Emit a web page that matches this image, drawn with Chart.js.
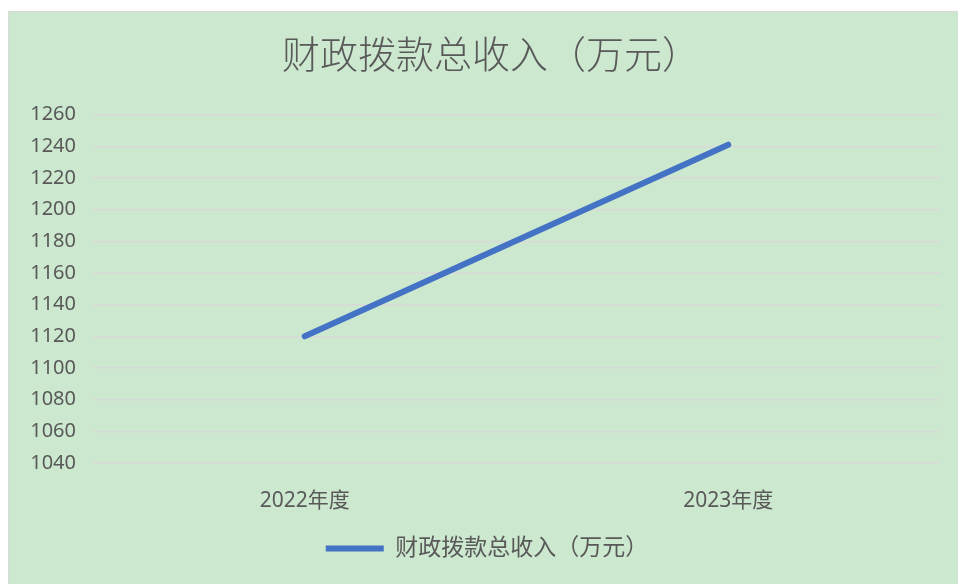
<!DOCTYPE html>
<html>
<head>
<meta charset="utf-8">
<script src="https://cdn.jsdelivr.net/npm/chart.js@4/dist/chart.umd.min.js"></script>
<style>
  html, body { margin: 0; padding: 0; background: #fff; overflow: hidden; }
  #box {
    position: absolute; left: 8px; top: 11px; width: 960px; height: 580px;
    background: #cce8cf; border: 1px solid #d9d9d9;
  }
  #wrap { position: absolute; left: 0; top: 0; width: 949px; height: 572px; }
</style>
</head>
<body>
<div id="box"><div id="wrap"><canvas id="myChart"></canvas></div></div>
<script>
// data
const years = ['2022年度', '2023年度'];
const income = [1120, 1241];
const seriesName = '财政拨款总收入（万元）';
const yMin = 1040, yMax = 1260, yStep = 20;

const fontFam = "'Noto Sans', 'Noto Sans CJK SC', sans-serif";
const grey = '#595959';

// title and legend sit a bit right of the canvas centre in the original
const nudgeBoxes = {
  id: 'nudgeBoxes',
  afterLayout(chart) {
    if (chart.titleBlock) chart.titleBlock.left += 33;
    if (chart.legend) chart.legend.left += 25;
  }
};

const ctx = document.getElementById('myChart').getContext('2d');
new Chart(ctx, {
  type: 'line',
  data: {
    labels: years,
    datasets: [{
      label: seriesName,
      data: income,
      borderColor: '#4472c4',
      backgroundColor: '#4472c4',
      borderWidth: 6,
      borderCapStyle: 'round',
      pointRadius: 0,
      tension: 0
    }]
  },
  options: {
    responsive: true,
    maintainAspectRatio: false,
    animation: false,
    layout: { padding: { left: 0, right: 18, top: 0, bottom: 14 } },
    plugins: {
      title: {
        display: true,
        text: seriesName,
        color: grey,
        font: { family: "'Noto Sans CJK SC', sans-serif", size: 38, weight: 300, lineHeight: 1.2 },
        padding: { top: 19, bottom: 38 }
      },
      legend: {
        position: 'bottom',
        labels: {
          color: grey,
          font: { family: fontFam, size: 23 },
          usePointStyle: true,
          pointStyle: 'line',
          pointStyleWidth: 58,
          padding: 10
        }
      },
      tooltip: { enabled: false }
    },
    scales: {
      x: {
        offset: true,
        grid: { display: false },
        border: { display: false },
        ticks: { color: grey, font: { family: fontFam, size: 21 }, padding: 17 },
        afterFit: (s) => { s.height = 64; }
      },
      y: {
        min: yMin,
        max: yMax,
        grid: { color: '#d9d9d9', lineWidth: 1.5, drawTicks: false },
        border: { display: false },
        ticks: {
          stepSize: yStep, color: grey, font: { family: fontFam, size: 20 }, padding: 17,
          callback: (v) => String(v)
        },
        afterFit: (s) => { s.width = 84; }
      }
    }
  },
  plugins: [nudgeBoxes]
});
</script>
</body>
</html>
